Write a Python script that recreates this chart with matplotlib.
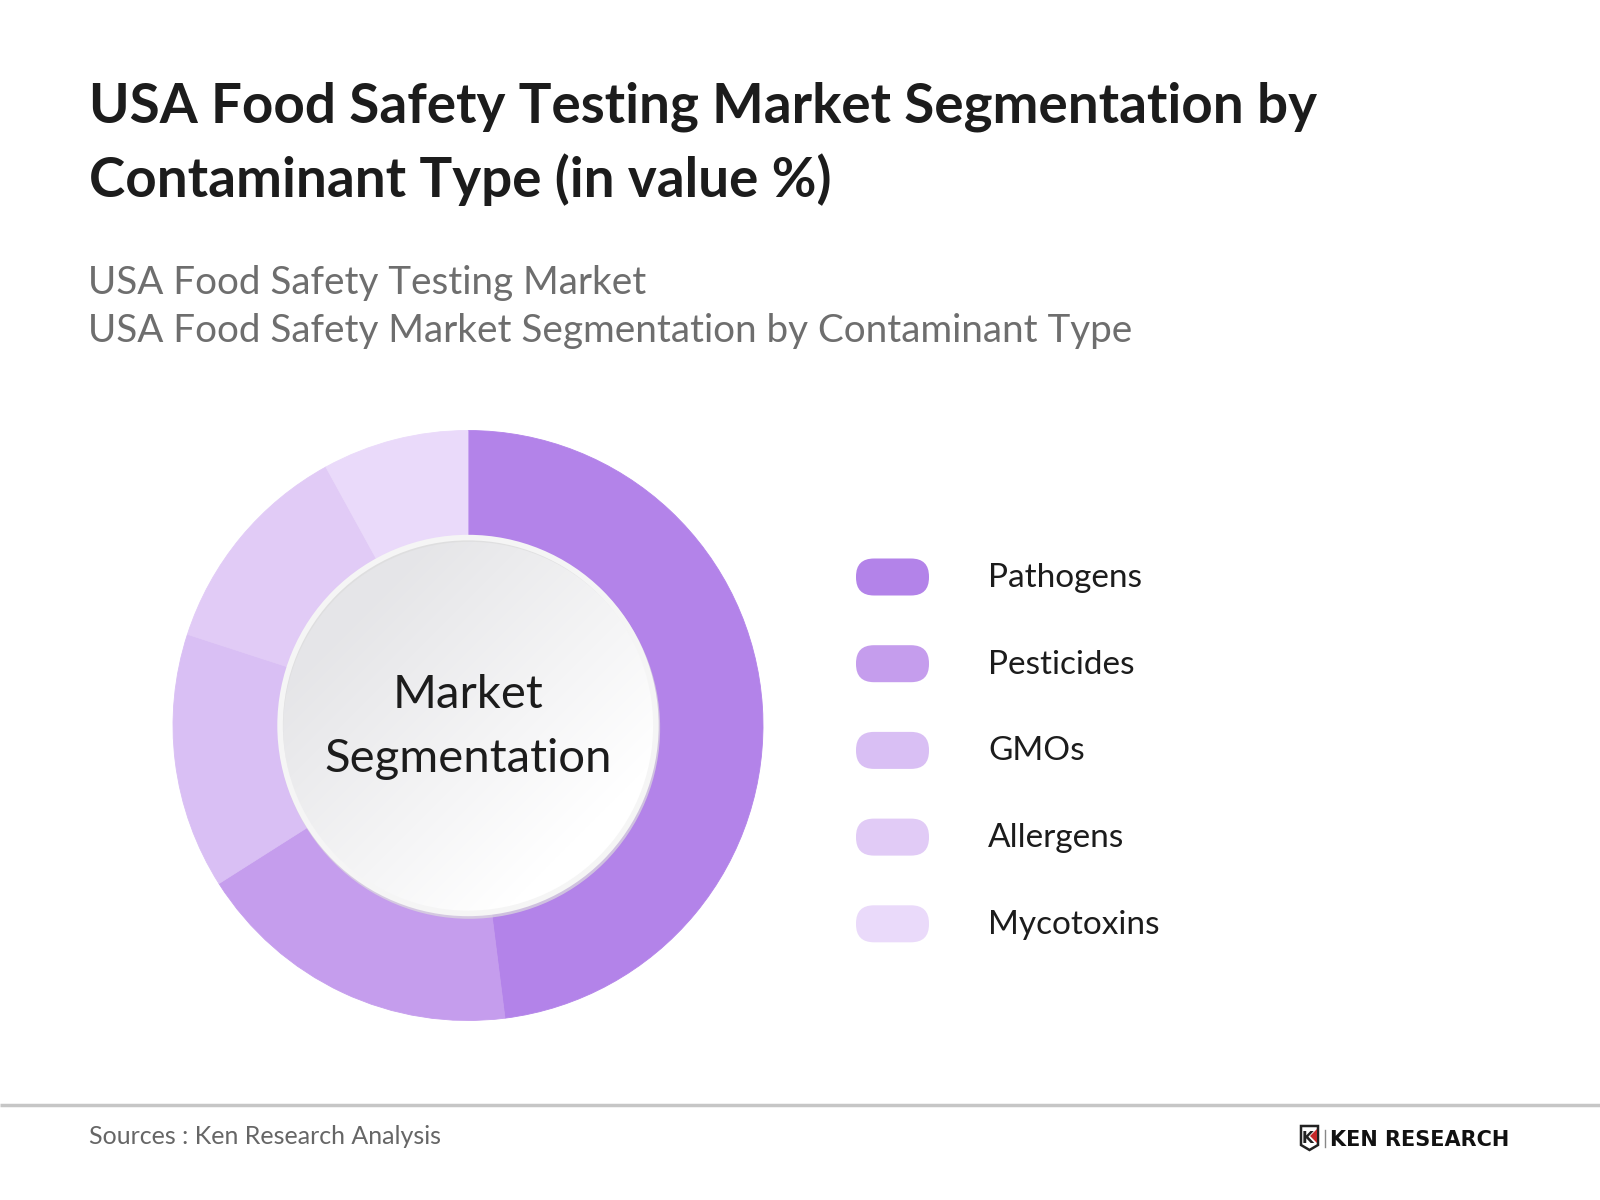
import matplotlib
matplotlib.use("Agg")
import matplotlib.pyplot as plt
import numpy as np
from matplotlib.patches import Circle, FancyBboxPatch, Polygon

# ---- data ----
categories = ["Pathogens", "Pesticides", "GMOs", "Allergens", "Mycotoxins"]
shares = [48, 18, 14, 12, 8]
colors = ["#b383e9", "#c59ded", "#d9bff4", "#e1cbf6", "#eadafa"]

title_lines = ["USA Food Safety Testing Market Segmentation by",
               "Contaminant Type (in value %)"]
subtitle_lines = ["USA Food Safety Testing Market",
                  "USA Food Safety Market Segmentation by Contaminant Type"]
center_lines = ["Market", "Segmentation"]
source_text = "Sources : Ken Research Analysis"
brand_text = "KEN RESEARCH"

plt.rcParams['font.family'] = ['Lato', 'DejaVu Sans']

W, H = 1600, 1200
fig = plt.figure(figsize=(16, 12), dpi=100)
fig.patch.set_facecolor("white")

# background axes in pixel coordinates
bg = fig.add_axes([0, 0, 1, 1])
bg.set_xlim(0, W)
bg.set_ylim(H, 0)
bg.axis("off")

# title
bg.text(89, 122, title_lines[0], fontsize=39.4, fontweight="bold", color="#1c1c1c", va="baseline", ha="left")
bg.text(89, 197, title_lines[1], fontsize=39.4, fontweight="bold", color="#1c1c1c", va="baseline", ha="left")
# subtitle
bg.text(88, 294, subtitle_lines[0], fontsize=27.8, color="#6e6e6e", va="baseline", ha="left")
bg.text(88, 342, subtitle_lines[1], fontsize=27.8, color="#6e6e6e", va="baseline", ha="left")

# legend
leg_y0, leg_dy = 577, 86.7
for i, (cat, col) in enumerate(zip(categories, colors)):
    yc = leg_y0 + i * leg_dy
    bg.add_patch(FancyBboxPatch((856, yc - 18.5), 73, 37,
                                boxstyle="round,pad=0,rounding_size=18",
                                linewidth=0, facecolor=col))
    bg.text(988, yc + 10, cat, fontsize=24, color="#1c1c1c", va="baseline", ha="left")

# footer
bg.plot([0, W], [1105, 1105], color="#c6c6c6", lw=2.5, solid_capstyle="butt")
bg.text(89, 1144, source_text, fontsize=18, color="#666666", va="baseline", ha="left")
# brand mark
bg.add_patch(Polygon([[1301, 1126], [1318, 1126], [1318, 1145], [1309.5, 1150], [1301, 1145]],
                     closed=True, facecolor="white", edgecolor="#222222", lw=1.8))
bg.add_patch(Polygon([[1310, 1136], [1317, 1129], [1317, 1143]], closed=True,
                     facecolor="#c62828", edgecolor="none"))
bg.text(1307.5, 1143, "K", fontsize=11, color="#222222", va="baseline", ha="center", fontweight="bold",
        family="DejaVu Sans")
bg.plot([1325, 1325], [1130, 1147], color="#888888", lw=1)
bg.text(1509, 1145.5, brand_text, fontsize=15, color="#111111", va="baseline", ha="right",
        family="DejaVu Sans", fontweight="bold")

# donut axes
cx, cy, R = 468, 725.5, 295
half = 300
ax = fig.add_axes([(cx - half) / W, (H - cy - half) / H, 2 * half / W, 2 * half / H])
ax.axis("off")
wedges, _ = ax.pie(shares, colors=colors, startangle=90, counterclock=False, radius=1.0,
                   wedgeprops=dict(width=0.36, linewidth=0.6))
for w, col in zip(wedges, colors):
    w.set_edgecolor(col)

# inner gradient circle
r_in = 0.637
n = 300
xs = np.linspace(-r_in, r_in, n)
X, Y = np.meshgrid(xs, xs[::-1])
t = np.clip((X - Y) / (2 * r_in) * 0.85 + 0.5, 0, 1)  # 0 top-left -> 1 bottom-right
c0 = np.array([0.90, 0.90, 0.91])
c1 = np.array([1.0, 1.0, 1.0])
img = c0[None, None, :] * (1 - t[..., None]) + c1[None, None, :] * t[..., None]
im = ax.imshow(img, extent=[-r_in, r_in, -r_in, r_in], zorder=3, interpolation="bilinear")
clip = Circle((0, 0), r_in, transform=ax.transData)
im.set_clip_path(clip)
ax.add_patch(Circle((0.004, -0.008), r_in + 0.002, facecolor="none", edgecolor="#dcdcdc", lw=3.5, zorder=3.5, alpha=0.7))
ax.add_patch(Circle((0, 0), r_in, facecolor="none", edgecolor="#f5f5f5", lw=4, zorder=4))
ax.set_aspect("equal")
ax.set_xlim(-half / R, half / R)
ax.set_ylim(-half / R, half / R)

ax.text(0, (cy - 708) / R, center_lines[0], fontsize=34, color="#1c1c1c", ha="center", va="baseline", zorder=5)
ax.text(0, (cy - 772) / R, center_lines[1], fontsize=34, color="#1c1c1c", ha="center", va="baseline", zorder=5)

fig.savefig("out.png", dpi=100, facecolor="white")
